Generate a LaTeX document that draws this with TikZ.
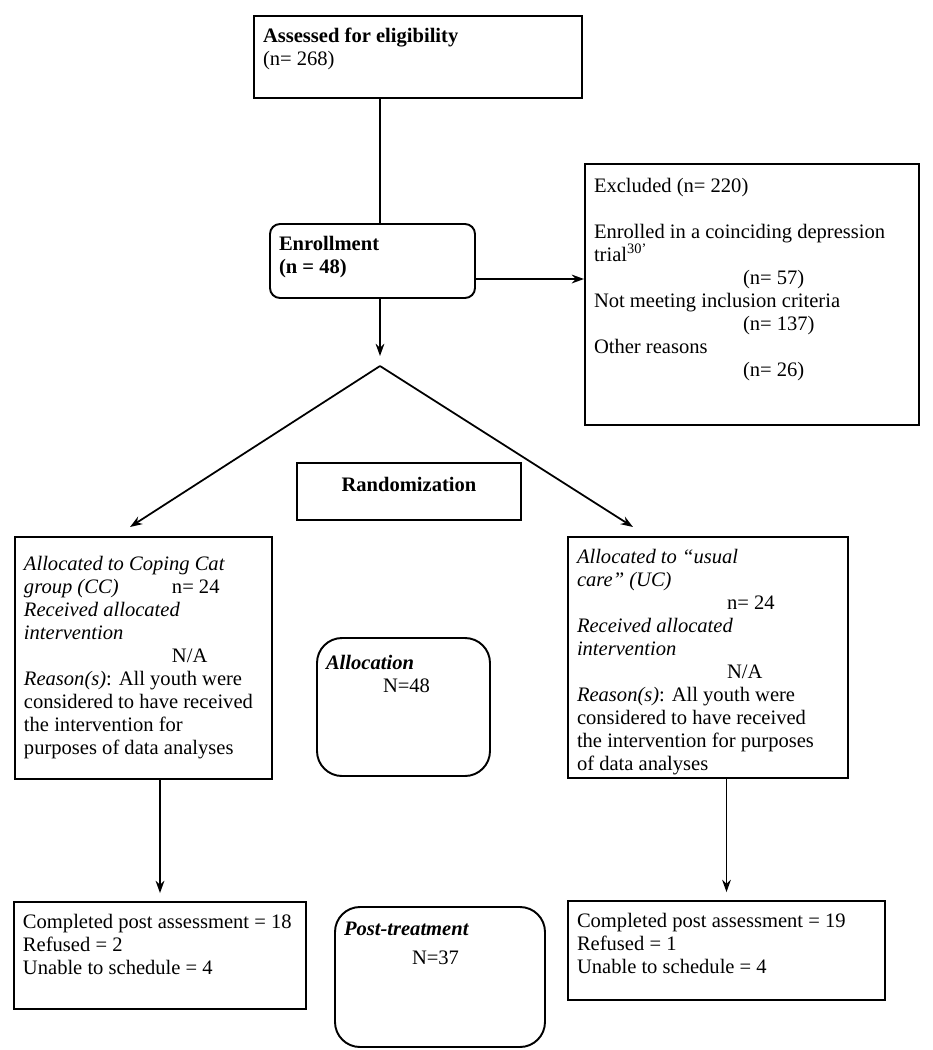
\documentclass[tikz,border=0pt]{standalone}
\usepackage{fontspec}
\setmainfont{Liberation Serif}
\usepackage{tikz}
\usetikzlibrary{arrows.meta, positioning}
\newcommand{\boxtext}[3]{\parbox[c][\dimexpr #2cm-0.48cm\relax][t]{\dimexpr #1cm-0.36cm\relax}{\raggedright #3}}
\tikzstyle{stage} = [rectangle, draw = black, line width = 1.1pt, inner xsep = 0.18cm, inner ysep = 0.24cm,
font = \fontsize{11.7}{13.1}\selectfont]
\tikzstyle{rstage} = [stage, rounded corners = 0.2cm]
\tikzstyle{sumstage} = [stage, rounded corners = 0.5cm]
\tikzstyle{arrow} = [line width = 1pt, -{Stealth[length = 7pt, width = 5pt]}]
\tikzstyle{line} = [line width = 1pt]

\begin{document}
\begin{tikzpicture}

    \useasboundingbox (0,0) rectangle (18.66,-21);

    \node (asses) [stage] at (8.36,-1.14) {\boxtext{6.56}{1.64}{\textbf{Assessed for eligibility}\\(n= 268)}};
    \node (enrol) [rstage] at (7.45,-5.22) {\boxtext{4.10}{1.48}{\textbf{Enrollment}\\\textbf{(n = 48)}}};
    \node (excl) [stage] at (15.04,-5.89) {\boxtext{6.68}{5.22}{\vspace*{1pt}Excluded (n= 220)\\[13.1pt]
        Enrolled in a coinciding depression\\trial\textsuperscript{30’}\\
        \hspace*{2.98cm}(n= 57)\\Not meeting inclusion criteria\\
        \hspace*{2.98cm}(n= 137)\\Other reasons\\
        \hspace*{2.98cm}(n= 26)}};

    \node (random) [stage] at (8.18,-9.83) {\boxtext{4.48}{1.14}{\centering\vspace*{1pt}\textbf{Randomization}}};

    \node (allocCC) [stage] at (2.87,-13.16) {\boxtext{5.14}{4.84}{\vspace*{4pt}\textit{Allocated to Coping Cat}\\
        \makebox[2.96cm][l]{\textit{group (CC)}}n= 24\\\textit{Received allocated}\\\textit{intervention}\\
        \hspace*{2.96cm}N/A\\\textit{Reason(s)}: All youth were\\considered to have received\\
        the intervention for\\purposes of data analyses}};
    \node (alloc) [sumstage] at (8.07,-14.14) {\boxtext{3.46}{2.76}{\vspace*{3pt}\textbf{\textit{Allocation}}\\
        \hspace*{1.14cm}N=48}};
    \node (allocUC) [stage] at (14.16,-13.15) {\boxtext{5.60}{4.82}{\textit{Allocated to “usual}\\
        \textit{care” (UC)}\\\hspace*{3.0cm}n= 24\\\textit{Received allocated}\\\textit{intervention}\\
        \hspace*{3.0cm}N/A\\\textit{Reason(s)}: All youth were\\considered to have received\\
        the intervention for purposes\\of data analyses}};

    \node (postCC) [stage] at (3.20,-19.11) {\boxtext{5.84}{2.14}{Completed post assessment = 18\\Refused = 2\\
        Unable to schedule = 4}};
    \node (posttreat) [sumstage] at (8.80,-19.54) {\boxtext{4.20}{2.80}{\vspace*{2pt}\textbf{\textit{Post-treatment}}\\[3pt]
        \hspace*{1.36cm}N=37}};
    \node (postUC) [stage] at (14.53,-19.01) {\boxtext{6.34}{1.98}{Completed post assessment = 19\\Refused = 1\\
        Unable to schedule = 4}};

    \coordinate (split) at (7.60,-7.32);
    \coordinate (splitin) at (7.60,-7.12);
    \coordinate (ccin) at (2.60,-10.54);
    \coordinate (ucin) at (12.66,-10.54);
    \coordinate (enrout) at ([yshift=-0.36cm]enrol.east);

    \draw[line] (split |- asses.south) -- (split |- enrol.north);
    \draw[arrow] (enrout) -- (enrout -| excl.west);
    \draw[arrow] (split |- enrol.south) -- (splitin);
    \draw[arrow] (split) -- (ccin);
    \draw[arrow] (split) -- (ucin);
    \draw[arrow] (postCC.north |- allocCC.south) -- ([yshift=0.16cm]postCC.north);
    \draw[arrow] (postUC.north |- allocUC.south) -- ([yshift=0.16cm]postUC.north);

\end{tikzpicture}
\end{document}
